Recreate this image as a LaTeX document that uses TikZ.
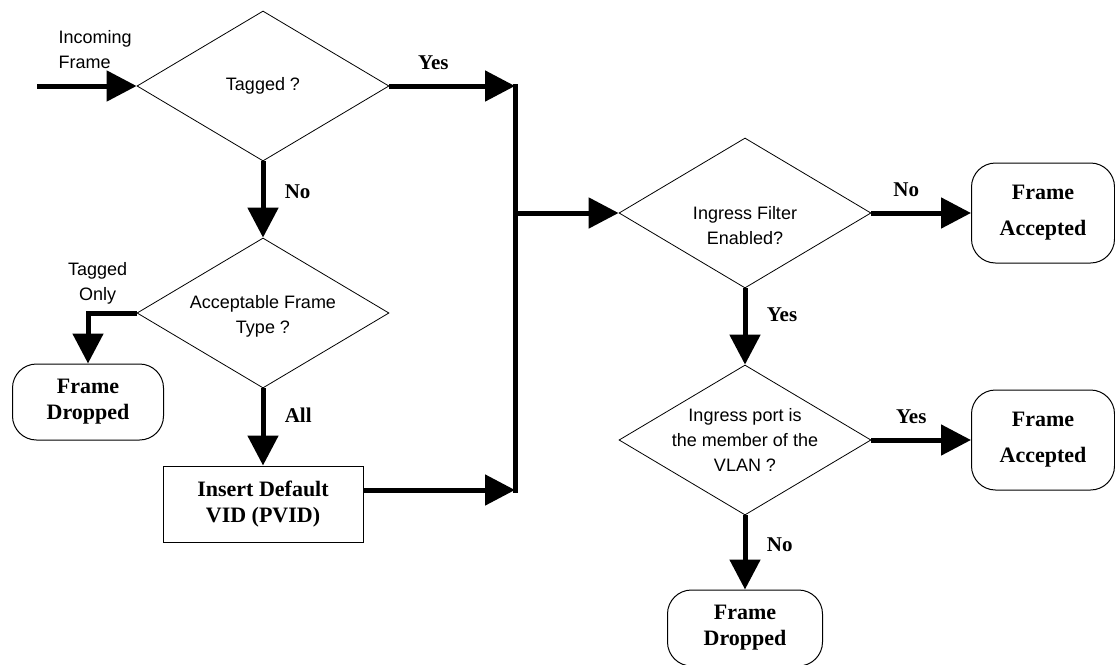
\documentclass[tikz,border=0pt]{standalone}
\usepackage{fontspec}
\setmainfont{Liberation Serif}
\setsansfont{Liberation Sans}
\usetikzlibrary{arrows.meta,shapes.geometric}

\begin{document}
\begin{tikzpicture}[x=1pt,y=-1pt,
font=\bfseries\fontsize{22}{26}\selectfont,
flow/.style={-{Triangle[length=30pt,width=30pt]},line width=5pt},
decision/.style={diamond,draw,line width=0.8pt,minimum width=252pt,minimum height=150pt,inner sep=0pt},
dtext/.style={font=\sffamily\mdseries\fontsize{18}{25}\selectfont,align=center},
terminal/.style={draw,line width=1pt,rounded corners=24pt,align=center},
process/.style={draw,line width=1pt,align=center},
lbl/.style={font=\bfseries\fontsize{21}{24}\selectfont},
ablbl/.style={lbl,above,yshift=10pt},
rtlbl/.style={lbl,right,xshift=16pt}]
    \useasboundingbox (0,0) rectangle (1115,664);

    % Left column
    \node[dtext,anchor=west,align=left] (intxt) at (55,50) {Incoming\\Frame};
    \coordinate (start) at (37,86);
    \node[decision,label={[dtext]center:Tagged ?}] (d1) at (263,86) {};
    \node[decision,label={[dtext,yshift=-3pt]center:Acceptable Frame\\Type ?}] (d2) at (263,313) {};
    \node[terminal,minimum width=151pt,minimum height=76pt] (dropA) at (88,402) {Frame\\Dropped};
    \node[process,minimum width=200pt,minimum height=76pt] (ins) at (263,504) {Insert Default\\VID (PVID)};

    % Bus
    \coordinate (bt) at (515,86);
    \coordinate (bm) at (515,213);
    \coordinate (bb) at (515,490);

    % Right column
    \node[decision,label={[dtext,yshift=-13pt]center:Ingress Filter\\Enabled?}] (d3) at (745,213) {};
    \node[decision,label={[dtext]center:Ingress port is\\the member of the\\VLAN ?}] (d4) at (745,440) {};
    \node[terminal,minimum width=143pt,minimum height=100pt,font=\bfseries\fontsize{22}{36}\selectfont] (accA) at (1043,213) {Frame\\Accepted};
    \node[terminal,minimum width=143pt,minimum height=100pt,font=\bfseries\fontsize{22}{36}\selectfont] (accB) at (1043,440) {Frame\\Accepted};
    \node[terminal,minimum width=155pt,minimum height=76pt] (dropB) at (745,628) {Frame\\Dropped};

    % Connectors
    \draw[flow] (start) -- (d1.west);
    \draw[flow] (d1.east) -- node[ablbl,pos=0.35] (yes1) {Yes} (bt);
    \draw[flow] (d1.south) -- node[rtlbl,pos=0.4] (no1) {No} (d2.north);
    \draw[flow] (d2.west) -| node[dtext,above,pos=0.4,yshift=3pt] (tonly) {Tagged\\Only} (dropA.north);
    \draw[flow] (d2.south) -- node[rtlbl,pos=0.35] (all) {All} (ins.north);
    \draw[line width=5pt,line cap=rect] (bt) -- (bb);
    \draw[flow] (ins.east |- bb) -- (bb);
    \draw[flow] (bm) -- (d3.west);
    \draw[flow] (d3.east) -- node[ablbl,pos=0.35] (no2) {No} (accA.west);
    \draw[flow] (d3.south) -- node[rtlbl,pos=0.35] (yes2) {Yes} (d4.north);
    \draw[flow] (d4.east) -- node[ablbl,pos=0.4] (yes3) {Yes} (accB.west);
    \draw[flow] (d4.south) -- node[rtlbl,pos=0.4] (no3) {No} (dropB.north);

\end{tikzpicture}
\end{document}
